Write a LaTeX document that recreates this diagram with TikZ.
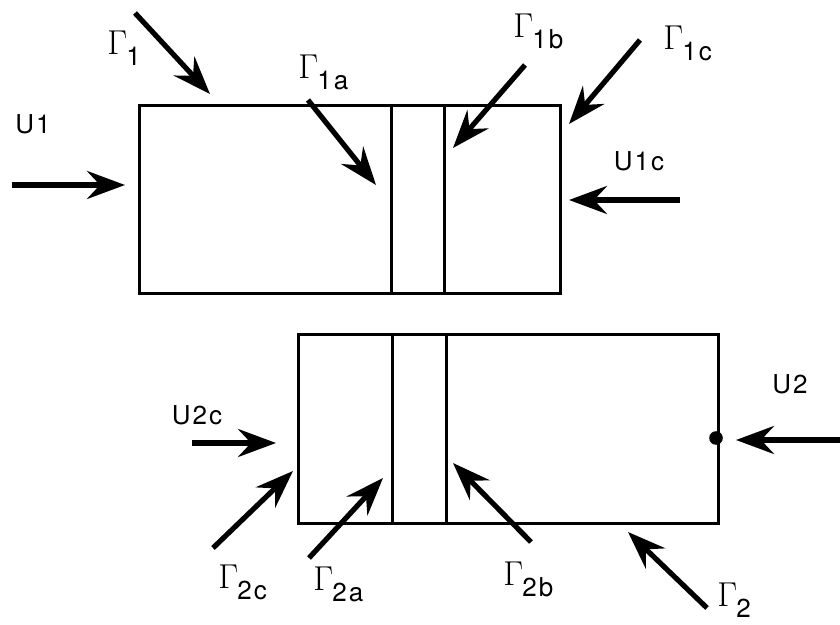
\documentclass[tikz,border=0pt]{standalone}
\usepackage[no-math]{fontspec}
\setsansfont[LetterSpace=8]{TeX Gyre Heros}
\usetikzlibrary{arrows.meta}
\newcommand{\gam}[1]{{\fontsize{17}{17}\selectfont$\Gamma$}\kern-0.5pt\raisebox{-5.5pt}{#1}}

\begin{document}
\begin{tikzpicture}[x=0.5pt,y=-0.5pt,>=Stealth,
    wall/.style={line width=1.5pt},
    flow/.style={-{Stealth[length=19pt,width=14pt,inset=6.5pt]},line width=2.6pt},
    lbl/.style={font=\sffamily\fontsize{13}{15}\selectfont,inner sep=0pt}]
  \useasboundingbox (0,0) rectangle (840,625);
  % upper block
  \draw[wall] (139,106) rectangle (560,294);
  \draw[wall] (391,106) -- (391,294);
  \draw[wall] (444,106) -- (444,294);
  % lower block
  \draw[wall] (298,335) rectangle (718,523);
  \draw[wall] (392,335) -- (392,523);
  \draw[wall] (446,335) -- (446,523);
  \fill (716,438) circle[radius=3.4pt];

  % arrow ends
  \coordinate (u1s) at (12,185);   \coordinate (u1e) at (125,185);
  \coordinate (g1s) at (135,13);   \coordinate (g1e) at (210,94);
  \coordinate (g1as) at (308,100); \coordinate (g1ae) at (376,185);
  \coordinate (g1bs) at (525,65);  \coordinate (g1be) at (453,148);
  \coordinate (g1cs) at (640,40);  \coordinate (g1ce) at (569,124);
  \coordinate (u1cs) at (680,200); \coordinate (u1ce) at (569,200);
  \coordinate (u2cs) at (192,443); \coordinate (u2ce) at (276,443);
  \coordinate (g2cs) at (213,548); \coordinate (g2ce) at (293,471);
  \coordinate (g2as) at (309,558); \coordinate (g2ae) at (383,478);
  \coordinate (g2bs) at (531,542); \coordinate (g2be) at (453,463);
  \coordinate (u2s) at (840,440);  \coordinate (u2e) at (736,440);
  \coordinate (g2s) at (707,608);  \coordinate (g2e) at (628,532);

  \draw[flow] (u1s) -- (u1e);
  \draw[flow] (g1s) -- (g1e);
  \draw[flow] (g1as) -- (g1ae);
  \draw[flow] (g1bs) -- (g1be);
  \draw[flow] (g1cs) -- (g1ce);
  \draw[flow] (u1cs) -- (u1ce);
  \draw[flow] (u2cs) -- (u2ce);
  \draw[flow] (g2cs) -- (g2ce);
  \draw[flow] (g2as) -- (g2ae);
  \draw[flow] (g2bs) -- (g2be);
  \draw[flow] (u2s) -- (u2e);
  \draw[flow] (g2s) -- (g2e);

  % labels
  \node[lbl] (lu1) at (33,124) {U1};
  \node[lbl] (lu1c) at (639,161) {U1c};
  \node[lbl] (lu2c) at (197,415) {U2c};
  \node[lbl] (lu2) at (790,384) {U2};
  \node[lbl,anchor=base west] (lg1) at (107,55) {\gam{1}};
  \node[lbl,anchor=base west] (lg1a) at (298,79) {\gam{1a}};
  \node[lbl,anchor=base west] (lg1b) at (513,38) {\gam{1b}};
  \node[lbl,anchor=base west] (lg1c) at (663,50) {\gam{1c}};
  \node[lbl,anchor=base west] (lg2c) at (218,588) {\gam{2c}};
  \node[lbl,anchor=base west] (lg2a) at (313,590) {\gam{2a}};
  \node[lbl,anchor=base west] (lg2b) at (503,585) {\gam{2b}};
  \node[lbl,anchor=base west] (lg2) at (717,606) {\gam{2}};
\end{tikzpicture}
\end{document}
